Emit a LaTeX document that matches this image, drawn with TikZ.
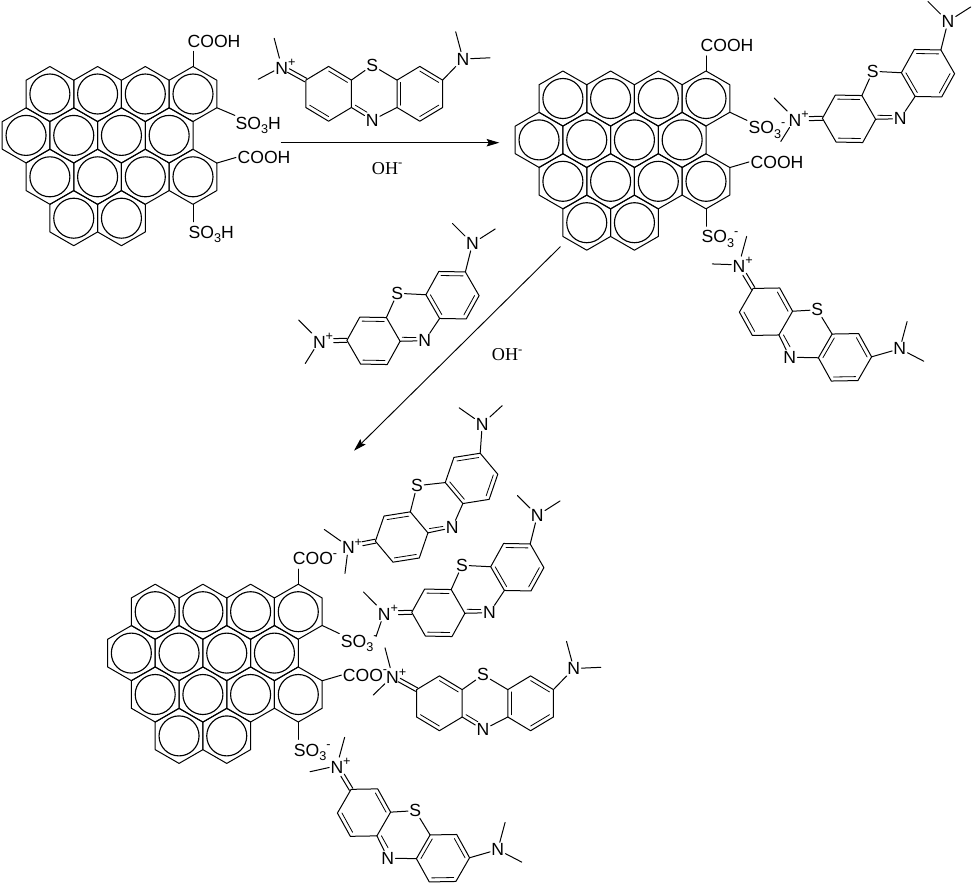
\documentclass[tikz,border=0pt]{standalone}
\usepackage{fontspec}
\setmainfont{Liberation Sans}
\newfontfamily\ohfont{Liberation Serif}
\usetikzlibrary{arrows.meta,calc}
\newcommand{\supr}[1]{\raisebox{.42em}{\fontsize{9.5}{9.5}\selectfont #1}}
\newcommand{\subr}[1]{\raisebox{-.24em}{\fontsize{9.5}{9.5}\selectfont #1}}
\tikzset{
  bond/.style={line width=0.75pt,line join=round,line cap=round,black},
  thinbond/.style={line width=0.6pt,line cap=round,black},
  ring/.style={line width=0.85pt,black},
  atom/.style={font=\fontsize{13.2}{15}\selectfont,inner sep=0.8pt,black},
  grp/.style={font=\fontsize{13.2}{15}\selectfont,inner sep=1pt,anchor=base west,black},
  oh/.style={font=\ohfont\fontsize{13.6}{15}\selectfont,inner sep=0pt,anchor=base west,black},
  rxn/.style={line width=0.7pt,black,-{Stealth[length=9.5pt,width=5.6pt,inset=1.6pt]}}
}
% inner line of a ring double bond
\newcommand{\inbond}[3]{\draw[thinbond] ($(#1)!0.17!(#3)$) -- ($(#2)!0.17!(#3)$);}
% methylene blue cation: [lower methyl end]{prefix}{cx}{cy}{rotation}
\newcommand{\mbmol}[5][-116,-14.5]{%
  \pgfmathsetmacro\exof{#5>0 ? 0.48 : (#5<0 ? 0.6 : 0.72)}%
  \begin{scope}[shift={(#3,#4)},rotate=#5]
    \coordinate (#2c) at (0,0);
    \coordinate (#2cl) at (-45.6,0);
    \coordinate (#2cr) at (45.6,0);
    \coordinate (#2vs) at (0,-27.4);
    \coordinate (#2vn) at (0,27.4);
    \coordinate (#2a) at (-22.8,-13.7);
    \coordinate (#2b) at (-22.8,13.7);
    \coordinate (#2d) at (22.8,-13.7);
    \coordinate (#2e) at (22.8,13.7);
    \coordinate (#2lA) at (-45.6,-27.4);
    \coordinate (#2lB) at (-68.4,-13.7);
    \coordinate (#2lC) at (-68.4,13.7);
    \coordinate (#2lD) at (-45.6,27.4);
    \coordinate (#2rA) at (45.6,-27.4);
    \coordinate (#2rB) at (68.4,-13.7);
    \coordinate (#2rC) at (68.4,13.7);
    \coordinate (#2rD) at (45.6,27.4);
    \coordinate (#2mA) at (-100,-55.5);
    \coordinate (#2mB) at (#1);
    \coordinate (#2mC) at (81.5,-62);
    \coordinate (#2mD) at (115.8,-36);
    \coordinate (#2xA) at (-67.43,-15.45);
    \coordinate (#2xB) at (-69.37,-11.95);
    \coordinate (#2yA) at (-91.53,-28.75);
    \coordinate (#2yB) at (-93.47,-25.25);
    \node[atom] (#2Np) at (-92.5,-27) {N\rlap{\supr{+}}};
    \node[atom] (#2Nr) at (88.8,-34.8) {N};
  \end{scope}
  \node[atom] (#2S) at ([shift={(-2,-1)}]#2vs) {S};
  \node[atom] (#2N) at ([shift={(-2,-1)}]#2vn) {N};
  \draw[bond] (#2a) -- (#2lA) -- (#2lB) -- (#2lC) -- (#2lD) -- (#2b) -- cycle;
  \draw[bond] (#2d) -- (#2rA) -- (#2rB) -- (#2rC) -- (#2rD) -- (#2e) -- cycle;
  \draw[bond] (#2a) -- (#2S);
  \draw[bond] (#2d) -- (#2S);
  \draw[bond] (#2b) -- (#2N);
  \draw[bond] (#2e) -- (#2N);
  \inbond{#2a}{#2lA}{#2cl}
  \inbond{#2lC}{#2lD}{#2cl}
  \inbond{#2d}{#2e}{#2cr}
  \inbond{#2rA}{#2rB}{#2cr}
  \inbond{#2rC}{#2rD}{#2cr}
  \draw[thinbond] ($(#2b)!0.17!(#2c)$) -- ($($(#2b)!0.17!(#2c)$)!0.62!($(#2vn)!0.17!(#2c)$)$);
  \draw[bond] (#2xA) -- ($(#2xA)!\exof!(#2yA)$);
  \draw[bond] (#2xB) -- ($(#2xB)!\exof!(#2yB)$);
  \draw[bond] (#2Np) -- (#2mA);
  \draw[bond] (#2Np) -- (#2mB);
  \draw[bond] (#2rB) -- (#2Nr);
  \draw[bond] (#2Nr) -- (#2mC);
  \draw[bond] (#2Nr) -- (#2mD);
}
% graphene-oxide flake: {prefix}{cx}{cy}{top}{upper sulfonate}{carboxyl}{lower sulfonate}
\newcommand{\flake}[7]{%
  \begin{scope}[shift={(#2,#3)}]
    \foreach \x/\y in {0/0,-47.7/0,-95.4/0,-143.1/0,
        -23.85/41.4,-71.55/41.4,-119.25/41.4,-166.95/41.4,
        0/82.8,-47.7/82.8,-95.4/82.8,-143.1/82.8,
        -119.25/124.2,-71.55/124.2}{
      \draw[bond] (\x,\y-27.5) -- (\x+23.85,\y-13.75) -- (\x+23.85,\y+13.75)
        -- (\x,\y+27.5) -- (\x-23.85,\y+13.75) -- (\x-23.85,\y-13.75) -- cycle;
      \draw[ring] (\x,\y) circle (20);
    }
    \coordinate (#1vA) at (0,-27.5);
    \coordinate (#1vB) at (23.85,13.75);
    \coordinate (#1vC) at (23.85,69.05);
    \coordinate (#1vD) at (0,110.3);
    \node[grp] (#1gA) at (-7,-47) {#4};
    \node[grp] (#1gB) at (41,35.3) {#5};
    \node[grp] (#1gC) at (43,69.5) {#6};
    \node[grp] (#1gD) at (-6,144.3) {#7};
  \end{scope}
  \draw[bond,shorten >=2pt] (#1vA) -- (#1vA |- #1gA.south);
  \draw[bond] (#1vB) -- (#1gB);
  \draw[bond] (#1vC) -- (#1gC.west);
  \draw[bond,shorten >=2pt] (#1vD) -- (#1vD |- #1gD.north);
}
\begin{document}
\begin{tikzpicture}[x=0.75pt,y=-0.75pt]
\useasboundingbox (0,0) rectangle (976,883);
\flake{F}{193}{94}{COOH}{SO\subr{3}H}{COOH}{SO\subr{3}H}
\flake{G}{706}{98.5}{COOH}{SO\subr{3}\supr{-}}{COOH}{SO\subr{3}\supr{-}}
\flake{K}{298.3}{611.7}{COO\supr{-}}{SO\subr{3}\supr{-}}{COO\supr{-}}{SO\subr{3}\supr{-}}
\mbmol{A}{374.2}{93.8}{0}
\mbmol{B}{888.5}{96}{30}
\mbmol{C}{805.5}{334.5}{-30}
\mbmol{D}{413}{318}{30}
\mbmol[-112.4,-8.6]{E}{436.6}{507.7}{40}
\mbmol[-111.5,-10.5]{P}{477.8}{590}{30}
\mbmol[-111.7,-8.3]{Q}{485}{703.3}{0}
\mbmol[-112.8,-8.4]{R}{403.5}{835.4}{-30}
\coordinate (r1s) at (280.7,142.7);
\coordinate (r1e) at (499.3,142.7);
\coordinate (r2s) at (560.5,246.5);
\coordinate (r2e) at (354,450.7);
\draw[rxn] (r1s) -- (r1e);
\draw[rxn] (r2s) -- (r2e);
\node[oh] (oh1) at (371.7,174) {OH\supr{-}};
\node[oh] (oh2) at (491.7,360.7) {OH\supr{-}};
\end{tikzpicture}
\end{document}
